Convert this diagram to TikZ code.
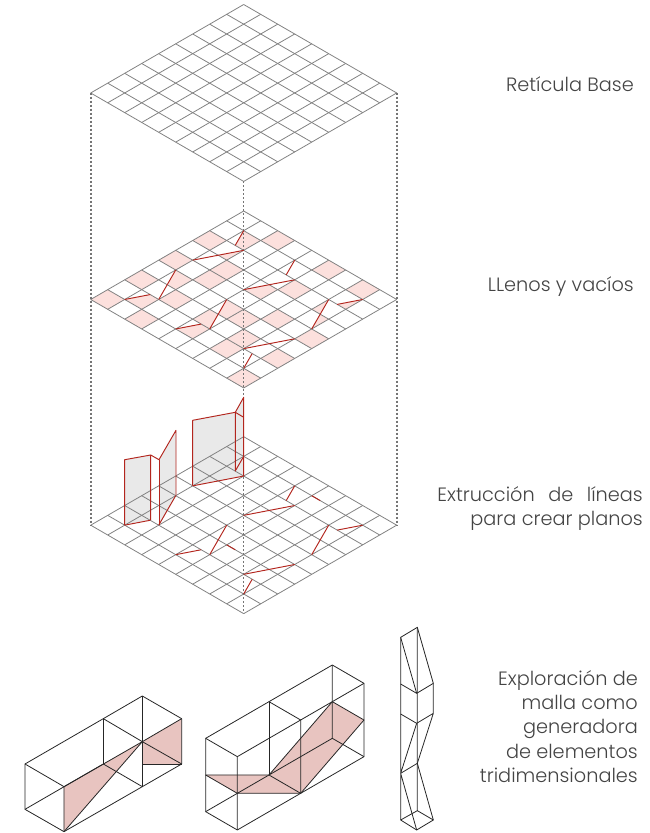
\documentclass[tikz,border=0pt]{standalone}
\usepackage{fontspec}
\setmainfont[UprightFont=* Light]{Poppins}
\definecolor{gridc}{HTML}{828282}
\definecolor{redc}{HTML}{B3261E}
\definecolor{pinkc}{HTML}{FCE0DD}
\definecolor{solidc}{HTML}{E8C4C0}
\definecolor{wallc}{HTML}{E9E9E9}
\definecolor{textc}{HTML}{444444}
\tikzset{
 gridline/.style={draw=gridc,line width=0.8pt},
 guide/.style={draw=gridc!90!black,line width=1.1pt,dash pattern=on 2pt off 2pt},
 redline/.style={draw=redc,line width=0.95pt},
 wall/.style={fill=wallc,draw=none},
 pinkcell/.style={fill=pinkc,draw=none},
 solid/.style={fill=solidc,draw=none},
 wire/.style={draw=black!85,line width=0.8pt,line join=round},
 lab/.style={text=textc,font=\fontsize{19.3}{22}\selectfont,anchor=base east,inner sep=0pt},
 iso/.style={shift={(243.7pt,-#1pt)},x=17pt,y=-9.83pt}
}
\newcommand{\gridlines}{%
 \foreach \k in {0,...,9}{
  \draw[gridline] (\k,\k) -- ({\k-9},{\k+9});
  \draw[gridline] ({-\k},\k) -- ({9-\k},{9+\k});
 }}
\newcommand{\pcell}[2]{\fill[pinkcell] ({#1-#2},{#1+#2}) -- ({#1-#2+1},{#1+#2+1}) -- ({#1-#2},{#1+#2+2}) -- ({#1-#2-1},{#1+#2+1}) -- cycle;}
\begin{document}
\begin{tikzpicture}[x=1pt,y=-1pt]
\useasboundingbox (0,0) rectangle (650,833);
% top grid
\begin{scope}[iso=4.5]
 \gridlines
\end{scope}
% middle grid
\begin{scope}[iso=211]
 \foreach \i/\j in {0/2,2/0,0/4,0/6,0/8,2/6,2/4,2/3,2/8,5/0,7/0,5/2,5/5,6/4,6/7,6/6,8/4,8/6,8/8}{\pcell{\i}{\j}}
 \fill[pinkcell] (-1.5,4.5) -- (0,4) -- (-1,5) -- cycle;
 \fill[pinkcell] (-7,9) -- (-5.5,8.5) -- (-5,9) -- (-6,10) -- cycle;
 \fill[pinkcell] (-4,6) -- (-3,7) -- (-4,8) -- (-4.5,7.5) -- cycle;
 \fill[pinkcell] (0,8) -- (1.5,7.5) -- (2,8) -- (1,9) -- cycle;
 \fill[pinkcell] (0,2) -- (1,3) -- (0,4) -- (-.5,3.5) -- cycle;
 \fill[pinkcell] (-1,9) -- (0,10) -- (-1,11) -- (-1.5,10.5) -- cycle;
 \fill[pinkcell] (-2,10) -- (-1.5,10.5) -- (-2,12) -- (-3,11) -- cycle;
 \fill[pinkcell] (-4,12) -- (-2.5,11.5) -- (-2,12) -- (-3,13) -- cycle;
 \fill[pinkcell] (5,9) -- (4.5,10.5) -- (4,10) -- cycle;
 \fill[pinkcell] (4.5,10.5) -- (5,11) -- (4,12) -- cycle;
 \fill[pinkcell] (5.5,9.5) -- (7,9) -- (6,10) -- cycle;
 \gridlines
\end{scope}
% walls of the lower grid
\fill[wall] (124.7,459.7) -- (150.7,455) -- (150.7,520) -- (124.7,525) -- cycle;
\fill[wall] (159,459.7) -- (176,430.3) -- (176,495.7) -- (159,525.3) -- cycle;
\fill[wall] (192.7,420.3) -- (235.3,412.3) -- (243.7,417.3) -- (243.7,476) -- (192.7,485.7) -- cycle;
\fill[wall] (235.3,412.3) -- (243.7,397.3) -- (243.7,456.3) -- (235.3,471) -- cycle;
% lower grid
\begin{scope}[iso=436.7]
 \gridlines
\end{scope}
% guides
\coordinate (gl1) at (91,92.5); \coordinate (gl2) at (91,525);
\coordinate (gr1) at (397,92.5); \coordinate (gr2) at (397,525);
\coordinate (gc1) at (243.7,181); \coordinate (gc2) at (243.7,612.7);
\draw[guide] (gl1) -- (gl2);
\draw[guide] (gr1) -- (gr2);
\draw[guide] (gc1) -- (gc2);
% red lines
\begin{scope}[iso=211]
 \foreach \a/\b/\c/\d in {0/2/-.5/3.5,-3/5/0/4,-4/6/-5/9,-7/9/-5.5/8.5,3/5/2.5/6.5,0/8/3/7,-1/9/-2/12,-4/12/-2.5/11.5,5/9/4/12,5.5/9.5/7/9,0/14/3/13,.5/14.5/0/16}
  {\draw[redline] (\a,\b) -- (\c,\d);}
\end{scope}
\begin{scope}[iso=436.7]
 \foreach \a/\b/\c/\d in {0/2/-.5/3.5,-3/5/0/4,-4/6/-5/9,-7/9/-5.5/8.5,3/5/2.5/6.5,0/8/3/7,-1/9/-2/12,-4/12/-2.5/11.5,5/9/4/12,5.5/9.5/7/9,0/14/3/13,.5/14.5/0/16,4/6/4.5/6.5,-1/11/-.5/11.5}
  {\draw[redline] (\a,\b) -- (\c,\d);}
\end{scope}
\draw[redline,line join=round] (124.7,525) -- (124.7,459.7) -- (150.7,455) -- (150.7,520);
\draw[redline,line join=round] (150.7,455) -- (159,459.7) -- (176,430.3) -- (176,495.7);
\draw[redline] (159,459.7) -- (159,525.3);
\draw[redline,line join=round] (192.7,485.7) -- (192.7,420.3) -- (235.3,412.3) -- (243.7,417.3);
\draw[redline,line join=round] (235.3,471) -- (235.3,412.3) -- (243.7,397.3) -- (243.7,476);
% solid 1
\begin{scope}[shift={(10pt,-620pt)},x=0.3333pt,y=-0.3333pt]
 \fill[solid] (162,500) -- (397,365) -- (162,635) -- cycle;
 \fill[solid] (397,365) -- (515,296) -- (515,432) -- (397,432) -- cycle;
 \draw[wire] (45,432) -- (280,296) -- (397,228) -- (515,296) -- (515,432) -- (397,500) -- (162,635) -- (45,568) -- cycle;
 \draw[wire] (45,432) -- (162,500) -- (162,635);
 \draw[wire] (162,500) -- (397,365) -- (515,296);
 \draw[wire] (45,568) -- (280,432) -- (397,500);
 \draw[wire] (280,296) -- (397,365) -- (515,432);
 \draw[wire] (397,228) -- (397,500);
 \draw[wire] (280,296) -- (280,432);
 \draw[wire] (397,365) -- (162,635);
 \draw[wire] (397,432) -- (515,432);
\end{scope}
% solid 2
\begin{scope}[shift={(200pt,-620pt)},x=0.3333pt,y=-0.3333pt]
 \fill[solid] (17,465) -- (207,465) -- (397,245) -- (492,300) -- (302,520) -- (112,520) -- cycle;
 \draw[wire] (17,355) -- (207,245) -- (397,135) -- (492,190) -- (492,410) -- (112,630) -- (17,575) -- cycle;
 \draw[wire] (17,355) -- (112,410) -- (112,630);
 \draw[wire] (112,410) -- (302,300) -- (492,190);
 \draw[wire] (207,245) -- (207,465);
 \draw[wire] (207,245) -- (302,300) -- (302,520);
 \draw[wire] (397,135) -- (397,355) -- (492,410);
 \draw[wire] (17,575) -- (207,465) -- (397,355);
 \draw[wire] (17,465) -- (207,465) -- (302,520);
 \draw[wire] (17,465) -- (112,520) -- (302,520);
 \draw[wire] (207,465) -- (397,245) -- (492,300) -- (302,520);
\end{scope}
% solid 3
\begin{scope}[shift={(380pt,-620pt)},x=0.3333pt,y=-0.3333pt]
 \draw[wire] (62,600) -- (62,52) -- (112,22) -- (160,190) -- (160,280) -- (110,310) -- (62,460) -- (110,630) -- (160,600) -- (112,430) -- (160,280);
 \draw[wire] (62,52) -- (110,220) -- (160,190);
 \draw[wire] (62,192) -- (110,220);
 \draw[wire] (62,282) -- (110,310);
 \draw[wire] (62,460) -- (112,430);
 \draw[wire] (112,22) -- (112,572) -- (160,600);
 \draw[wire] (112,572) -- (62,600) -- (110,630);
\end{scope}
% labels
\node[lab] (l1) at (634,91) {Retícula Base};
\node[lab] (l2) at (634,291) {LLenos y vacíos};
\node[lab] (l3) at (643,501.5) {Extrucción\hspace{13.5pt}de\hspace{13.5pt}líneas};
\node[lab] (l4) at (643,525) {para crear planos};
\node[lab] (l5) at (638,685.5) {Exploración de};
\node[lab] (l6) at (638,709.5) {malla como};
\node[lab] (l7) at (638,733.5) {generadora};
\node[lab] (l8) at (638,758) {de elementos};
\node[lab] (l9) at (638,782) {tridimensionales};
\end{tikzpicture}
\end{document}
